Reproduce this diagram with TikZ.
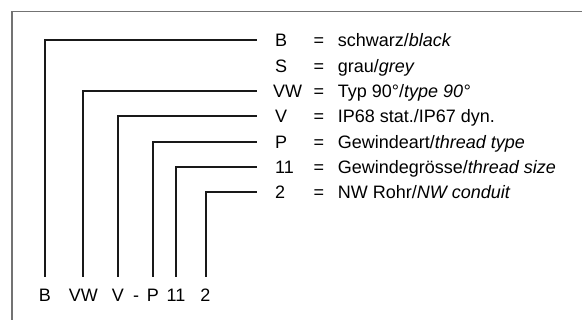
\documentclass[tikz,border=0pt]{standalone}
\usepackage{fontspec}
\setmainfont{Liberation Sans}
\newcommand\keyentry[2]{\makebox[38.5pt][l]{#1}\makebox[24.2pt][l]{=}#2}
\begin{document}
\begin{tikzpicture}[x=1pt,y=-1pt,
    font=\fontsize{18}{21}\selectfont,
    frame/.style={line width=1.2pt,color=black!55},
    lead/.style={line width=2pt,color=black!90},
    keyrow/.style={anchor=west,inner xsep=18pt,inner ysep=0pt,text height=12.9pt,text depth=0pt},
    codelabel/.style={anchor=base,inner xsep=0pt,inner ysep=11.8pt,text height=12.9pt,text depth=0pt}]
    %%%%% FRAME %%%%%
    \useasboundingbox (0,0) rectangle (582,320);
    \draw[frame] (12,320) |- (582,11.7);

    %%%%% KEY %%%%%
    \node[keyrow] (kB) at (257,40.5) {\keyentry{B}{schwarz/\textit{black}}};
    \node[keyrow] (kS) at (257,65.8) {\keyentry{S}{grau/\textit{grey}}};
    \node[keyrow] (kVW) at (257,91.1) {\keyentry{\hspace{-2pt}VW}{Typ 90°/\textit{type 90°}}};
    \node[keyrow] (kV) at (257,116.4) {\keyentry{V}{IP68 stat./IP67 dyn.}};
    \node[keyrow] (kP) at (257,141.7) {\keyentry{P}{Gewindeart/\textit{thread type}}};
    \node[keyrow] (k11) at (257,167.0) {\keyentry{11}{Gewindegrösse/\textit{thread size}}};
    \node[keyrow] (k2) at (257,192.3) {\keyentry{2}{NW Rohr/\textit{NW conduit}}};

    %%%%% CODE %%%%%
    \node[codelabel] (cB) at (45,301.7) {B};
    \node[codelabel] (cVW) at (83.3,301.7) {VW};
    \node[codelabel] (cV) at (117.8,301.7) {V};
    \node[codelabel] (cdash) at (136,301.7) {-};
    \node[codelabel] (cP) at (153,301.7) {P};
    \node[codelabel] (c11) at (176,301.7) {11};
    \node[codelabel] (c2) at (205.5,301.7) {2};

    %%%%% LEADS %%%%%
    \draw[lead] (cB.north) |- (kB.west);
    \draw[lead] (cVW.north) |- (kVW.west);
    \draw[lead] (cV.north) |- (kV.west);
    \draw[lead] (cP.north) |- (kP.west);
    \draw[lead] (c11.north) |- (k11.west);
    \draw[lead] (c2.north) |- (k2.west);
\end{tikzpicture}
\end{document}
